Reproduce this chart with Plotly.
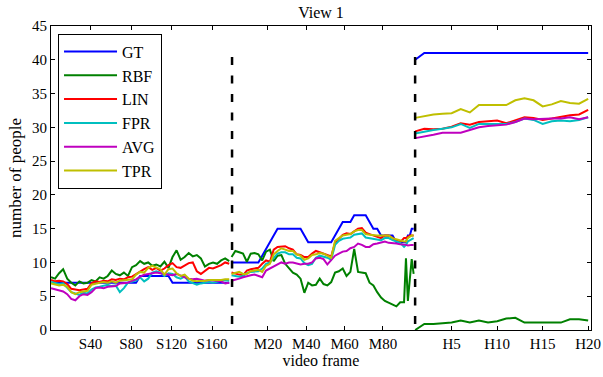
import plotly.graph_objects as go

# ---------------- data ----------------
series_names = ["GT", "RBF", "LIN", "FPR", "AVG", "TPR"]

# Segment S (frames sampled every 4)
S_frames = list(range(1, 178, 4))
S_GT = [7]*22 + [8]*8 + [7]*15
S_RBF = [7.8, 7.6, 8.4, 9.0, 7.6, 7.0, 6.6, 7.2, 6.9, 7.0, 7.4, 7.2, 7.8, 7.6, 8.0, 8.8, 8.3, 8.1, 8.5, 8.0,
         9.3, 9.6, 10.2, 9.8, 10.0, 9.5, 9.7, 9.4, 10.1, 9.2, 10.8, 11.8, 10.4, 10.8, 11.4, 10.9, 11.1, 10.6,
         9.4, 9.8, 10.0, 9.8, 10.3, 10.6, 10.2]
S_LIN = [7.4, 7.2, 7.3, 7.2, 6.8, 6.1, 6.0, 5.9, 6.0, 6.1, 6.9, 7.2, 7.1, 7.3, 7.2, 7.5, 7.4, 7.6, 7.5, 7.8,
         7.9, 8.3, 8.7, 9.0, 9.3, 8.9, 9.2, 8.8, 9.1, 9.6, 9.9, 9.3, 9.2, 9.6, 9.9, 10.0, 8.7, 8.3, 8.8, 9.2,
         9.1, 9.3, 9.6, 10.0, 9.8]
S_FPR = [7.1, 7.0, 6.8, 6.9, 6.2, 5.6, 5.4, 5.2, 5.5, 5.4, 6.0, 6.3, 6.4, 6.6, 6.7, 6.5, 6.6, 5.6, 6.2, 7.0,
         7.1, 7.3, 7.8, 7.2, 7.6, 8.5, 8.7, 8.5, 8.0, 8.4, 8.3, 7.8, 7.6, 7.9, 7.2, 6.9, 6.7, 6.9, 7.0, 7.1,
         7.0, 7.2, 7.3, 7.4, 7.3]
S_AVG = [6.2, 6.0, 5.8, 5.7, 5.3, 4.6, 4.4, 5.0, 5.3, 5.2, 5.6, 6.2, 6.3, 6.2, 6.4, 6.5, 6.5, 6.9, 7.0, 7.0,
         7.3, 7.5, 7.9, 8.2, 8.3, 8.4, 8.5, 8.4, 8.3, 8.2, 8.1, 8.3, 8.0, 7.8, 7.6, 7.5, 7.6, 7.4, 7.3, 7.4,
         7.4, 7.3, 7.2, 6.9, 7.0]
S_TPR = [6.9, 6.8, 6.6, 6.7, 6.4, 5.6, 5.3, 5.6, 5.7, 5.8, 6.7, 6.9, 7.0, 7.1, 7.0, 7.2, 7.0, 7.3, 7.4, 7.4,
         7.5, 8.2, 8.6, 8.5, 9.2, 9.5, 9.3, 9.0, 8.2, 9.0, 9.1, 8.4, 8.0, 8.2, 7.6, 7.3, 7.2, 7.2, 7.3, 7.4,
         7.4, 7.3, 7.4, 7.5, 7.5]

# Segment M
M_frames = list(range(1, 90, 2)) + [91, 92, 93, 94, 95, 96]
M_GT = [10]*8 + [11, 12, 13, 14] + [15]*7 + [14] + [13]*7 + [14, 15] + [16]*3 + [17]*4 + [16] + [15]*2 + \
       [14]*4 + [13]*2 + [13, 13, 14, 14, 15, 15]
M_RBF = [10.8, 11.7, 11.5, 11.3, 10.1, 11.3, 11.4, 11.2, 10.3, 11.6, 11.9, 10.2, 11.0, 11.1, 9.8, 9.1, 8.5,
         8.2, 7.6, 5.5, 7.0, 6.6, 6.7, 7.6, 6.8, 6.6, 7.1, 8.5, 8.7, 9.1, 8.0, 8.6, 12.0, 8.6, 8.5, 8.4, 7.0,
         6.6, 5.6, 4.8, 4.3, 4.0, 3.8, 3.5, 4.1, 4.1, 10.6, 4.3, 7.5, 10.5, 8.3]
M_LIN = [8.5, 8.3, 8.2, 8.1, 8.8, 9.0, 9.1, 9.2, 9.8, 10.3, 10.1, 11.9, 12.3, 12.4, 12.4, 12.1, 11.9, 11.2,
         11.1, 10.8, 10.8, 11.3, 11.7, 11.5, 11.3, 11.0, 10.9, 12.9, 13.5, 14.1, 14.3, 14.2, 14.6, 15.0, 15.1,
         14.4, 14.2, 14.0, 13.8, 13.6, 14.0, 14.0, 13.6, 13.3, 13.0, 13.6, 13.6, 13.8, 14.0, 14.0, 14.0]
M_FPR = [8.1, 8.0, 7.9, 8.0, 8.4, 8.6, 8.6, 8.7, 9.1, 9.8, 10.0, 10.7, 11.3, 11.5, 11.5, 11.2, 11.2, 10.7,
         10.6, 9.9, 9.6, 9.8, 10.7, 11.0, 10.9, 10.7, 10.4, 12.6, 13.2, 13.5, 13.6, 13.7, 14.1, 14.2, 14.3,
         13.7, 13.6, 13.5, 13.3, 13.3, 13.6, 13.6, 13.3, 13.1, 12.9, 12.3, 12.6, 13.1, 13.3, 13.5, 13.6]
M_AVG = [7.3, 7.4, 7.6, 7.8, 8.0, 8.1, 8.2, 8.0, 7.8, 8.8, 9.1, 9.5, 9.8, 10.0, 9.8, 10.0, 10.0, 9.8, 9.7,
         9.8, 9.8, 10.0, 10.6, 10.7, 10.5, 9.7, 10.4, 11.0, 11.3, 11.6, 11.7, 12.1, 12.3, 12.8, 12.6, 12.3,
         12.3, 12.7, 12.8, 13.0, 13.1, 12.9, 12.9, 12.8, 12.7, 12.7, 12.6, 12.5, 12.6, 12.6, 12.6]
M_TPR = [8.3, 8.5, 8.6, 8.3, 8.3, 8.7, 8.8, 8.9, 8.6, 9.5, 9.8, 11.2, 11.7, 12.1, 11.9, 11.7, 11.7, 11.2,
         11.0, 10.4, 10.6, 11.1, 11.2, 11.4, 11.3, 11.0, 10.7, 13.2, 13.6, 14.0, 14.1, 14.2, 14.6, 14.8, 14.8,
         14.2, 14.1, 14.0, 14.0, 14.0, 14.0, 14.0, 13.6, 13.4, 13.3, 13.1, 13.1, 13.6, 13.8, 14.0, 14.0]

# Segment H
H_frames = list(range(1, 21))
H_GT = [40] + [41]*19
H_RBF = [0.0, 0.9, 0.9, 1.0, 1.1, 1.4, 1.1, 1.4, 1.1, 1.3, 1.7, 1.8, 1.1, 1.1, 1.1, 1.1, 1.1, 1.6, 1.6, 1.4]
H_LIN = [29.4, 29.8, 29.7, 29.8, 30.1, 30.6, 30.4, 30.8, 30.9, 31.0, 30.6, 31.0, 31.5, 31.4, 31.1, 31.3,
         31.6, 31.8, 31.9, 32.6]
H_FPR = [29.1, 29.4, 29.6, 29.8, 30.0, 30.5, 29.9, 30.5, 30.5, 30.5, 30.5, 30.8, 31.3, 31.1, 30.5, 30.9,
         31.0, 30.9, 31.1, 31.5]
H_AVG = [28.4, 28.6, 28.9, 29.2, 29.2, 29.2, 29.6, 30.0, 30.2, 30.3, 30.4, 30.8, 31.3, 31.2, 31.3, 31.3,
         31.3, 31.5, 31.2, 31.5]
H_TPR = [31.4, 31.7, 31.9, 32.0, 32.1, 32.7, 32.2, 33.3, 33.3, 33.4, 33.3, 34.0, 34.3, 34.0, 33.1, 33.4,
         33.9, 33.6, 33.5, 34.2]

tick_S = [40, 80, 120, 160]
tick_M = [20, 40, 60, 80]
tick_H = [5, 10, 15, 20]

# ---------------- layout of the frame axis ----------------
M_OFF, M_SC = 177.4, 1.893
H_OFF, H_SC = 351.7, 8.99
SEP1, SEP2 = 179.8, 360.6


def xpos_S(k):
    return k


def xpos_M(m):
    return M_OFF + M_SC * m


def xpos_H(h):
    return H_OFF + H_SC * h


colors = {"GT": "#0000ff", "RBF": "#008000", "LIN": "#ff0000",
          "FPR": "#00bfbf", "AVG": "#bf00bf", "TPR": "#bfbf00"}

data = {
    "GT": (S_GT, M_GT, H_GT), "RBF": (S_RBF, M_RBF, H_RBF), "LIN": (S_LIN, M_LIN, H_LIN),
    "FPR": (S_FPR, M_FPR, H_FPR), "AVG": (S_AVG, M_AVG, H_AVG), "TPR": (S_TPR, M_TPR, H_TPR),
}

xs = [xpos_S(k) for k in S_frames] + [None] + [xpos_M(m) for m in M_frames] + [None] + \
     [xpos_H(h) for h in H_frames]

fig = go.Figure()
for name in series_names:
    s, m, h = data[name]
    ys = list(s) + [None] + list(m) + [None] + list(h)
    fig.add_trace(go.Scatter(x=xs, y=ys, mode="lines", name=name,
                             line=dict(color=colors[name], width=2)))

for sx in (SEP1, SEP2):
    fig.add_trace(go.Scatter(x=[sx, sx], y=[40.4, 0], mode="lines", showlegend=False,
                             line=dict(color="black", width=2.5, dash="8px,10.5px"),
                             hoverinfo="skip"))

tickvals = [xpos_S(k) for k in tick_S] + [xpos_M(m) for m in tick_M] + [xpos_H(h) for h in tick_H]
ticktext = [f"S{k}" for k in tick_S] + [f"M{m}" for m in tick_M] + [f"H{h}" for h in tick_H]

FONT = "'Liberation Serif', 'Times New Roman', serif"
BLACK = "black"
fig.update_layout(
    width=603, height=377,
    margin=dict(l=51, r=12, t=26, b=47, autoexpand=False),
    paper_bgcolor="white", plot_bgcolor="white",
    font=dict(family=FONT, size=15, color=BLACK),
    title=dict(text="View 1", x=0.5, xref="paper", xanchor="center",
               y=1 - 12/377, yref="container", yanchor="middle",
               font=dict(family=FONT, size=16, color=BLACK)),
    showlegend=True,
    legend=dict(x=0.013, y=0.975, xanchor="left", yanchor="top",
                bgcolor="white", bordercolor=BLACK, borderwidth=1,
                font=dict(family=FONT, size=16, color=BLACK),
                itemwidth=53, tracegroupgap=0),
    xaxis=dict(range=[0.99, 534.3], tickvals=tickvals, ticktext=ticktext, automargin=False,
               ticks="inside", ticklen=4, tickcolor=BLACK, mirror="allticks",
               showline=True, linecolor=BLACK, linewidth=1, showgrid=False, zeroline=False,
               title=dict(text="video frame", standoff=3, font=dict(family=FONT, size=16, color=BLACK)),
               tickfont=dict(family=FONT, size=15, color=BLACK)),
    yaxis=dict(range=[0, 45], dtick=5, tick0=0, automargin=False,
               ticks="inside", ticklen=4, tickcolor=BLACK, mirror="allticks",
               showline=True, linecolor=BLACK, linewidth=1, showgrid=False, zeroline=False,
               title=dict(text="number of people", standoff=6, font=dict(family=FONT, size=17, color=BLACK)),
               tickfont=dict(family=FONT, size=15, color=BLACK)),
)

fig.write_html("out.html")
